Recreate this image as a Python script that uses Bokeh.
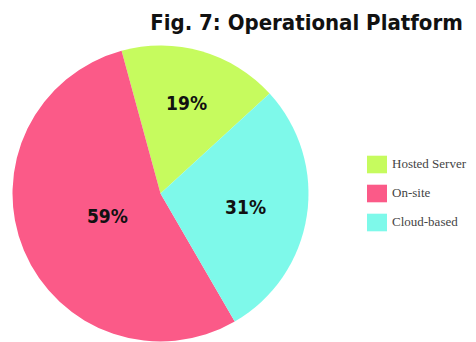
import math
from bokeh.plotting import figure
from bokeh.models import ColumnDataSource, Legend, LegendItem, Label, Range1d
from bokeh.core.properties import value
from bokeh.embed import file_html
from bokeh.resources import INLINE

# Operational platform shares (percent labels as reported)
platforms = ["Hosted Server", "On-site", "Cloud-based"]
shares = [19, 59, 31]
colors = ["#c6fb5e", "#fb5a88", "#7ef9ea"]

W, H = 476, 342
cx, cy, r = 160, 149, 148
start_deg = 42.5

total = sum(shares)
starts, ends, lx, ly = [], [], [], []
a = math.radians(start_deg)
for s in shares:
    span = 2 * math.pi * s / total
    starts.append(a)
    ends.append(a + span)
    mid = a + span / 2
    # label sits at the sector's centroid
    d = 2 * r * math.sin(span / 2) / (3 * span / 2)
    lx.append(cx + d * math.cos(mid))
    ly.append(cy + d * math.sin(mid))
    a += span

src = ColumnDataSource(dict(
    name=platforms, start=starts, end=ends, color=colors,
    lx=lx, ly=ly, txt=[f"{s}%" for s in shares],
))

p = figure(width=W, height=H, output_backend="svg", toolbar_location=None,
           x_range=Range1d(0, W), y_range=Range1d(0, H),
           min_border=0, outline_line_color=None)
p.axis.visible = False
p.grid.visible = False
p.background_fill_color = "white"
p.border_fill_color = "white"

renderers = []
for i in range(len(platforms)):
    rr = p.wedge(x=cx, y=cy, radius=r, start_angle=starts[i], end_angle=ends[i],
                 fill_color=colors[i], line_color=None)
    renderers.append(rr)

p.text(x="lx", y="ly", text="txt", source=src,
       text_font=value("DejaVu Sans Condensed"), text_font_style="bold",
       text_font_size="19px", text_align="center", text_baseline="middle",
       text_color="#111111")

p.add_layout(Label(x=306, y=H - 22, text="Fig. 7: Operational Platform",
                   text_font="DejaVu Sans Condensed", text_font_style="bold",
                   text_font_size="22px", text_align="center",
                   text_baseline="middle", text_color="#111111"))

# area legend glyphs are inset 10% per side, so the boxes are sized up
legend = Legend(items=[LegendItem(label=platforms[i], renderers=[renderers[i]])
                       for i in range(len(platforms))],
                location=(364, 109), orientation="vertical",
                glyph_width=25, glyph_height=22, spacing=7, padding=0,
                label_text_font="Liberation Serif", label_text_font_size="13px",
                label_standoff=3, border_line_color=None,
                background_fill_alpha=0)
p.add_layout(legend, "center")

open("out.html", "w").write(file_html(p, INLINE))
